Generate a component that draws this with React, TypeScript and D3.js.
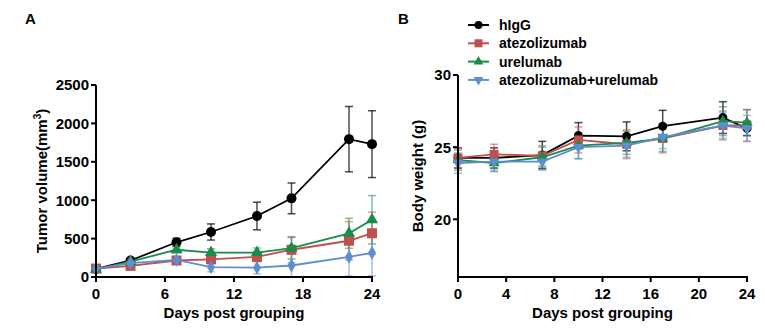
import React from "react";
import * as d3 from "d3";

const days = [0, 3, 7, 10, 14, 17, 22, 24];
const seriesNames = ["hIgG", "atezolizumab", "urelumab", "atezolizumab+urelumab"];
const seriesColors = ["#000000", "#c0504d", "#1a8c4a", "#5b8fd0"];

// Panel A: tumor volume (mean, sem)
const tumorIgG = [105, 215, 452, 586, 794, 1024, 1795, 1730];
const tumorIgGErr = [20, 25, 52, 105, 180, 200, 425, 435];
const tumorAtezo = [110, 145, 215, 230, 262, 355, 472, 570];
const tumorAtezoErr = [20, 25, 30, 40, 60, 170, 250, 275];
const tumorUrel = [100, 200, 355, 318, 318, 375, 569, 745];
const tumorUrelErr = [20, 25, 40, 50, 60, 140, 195, 315];
const tumorCombo = [110, 180, 222, 128, 122, 150, 262, 315];
const tumorComboErr = [20, 25, 30, 60, 80, 150, 250, 300];

// Panel B: body weight (mean, sd)
const weightIgG = [24.25, 24.25, 24.45, 25.8, 25.75, 26.45, 27.05, 26.3];
const weightIgGErr = [0.7, 0.7, 0.95, 0.9, 1.0, 1.1, 1.1, 0.5];
const weightAtezo = [24.25, 24.5, 24.4, 25.5, 25.2, 25.6, 26.5, 26.5];
const weightAtezoErr = [0.7, 0.7, 0.7, 0.9, 1.0, 1.0, 1.0, 1.1];
const weightUrel = [24.1, 23.9, 24.3, 25.1, 25.3, 25.6, 26.8, 26.7];
const weightUrelErr = [0.7, 0.6, 0.7, 0.9, 0.8, 0.9, 1.0, 0.9];
const weightCombo = [23.9, 24.0, 24.0, 25.0, 25.1, 25.7, 26.5, 26.3];
const weightComboErr = [0.7, 0.6, 0.6, 0.8, 0.8, 0.8, 0.9, 0.9];

const tumorTicksY = [0, 500, 1000, 1500, 2000, 2500];
const tumorTicksX = [0, 6, 12, 18, 24];
const weightTicksY = [20, 25, 30];
const weightTicksX = [0, 4, 8, 12, 16, 20, 24];

const FONT = "Liberation Sans, Arial, Helvetica, sans-serif";

type Shape = "circle" | "square" | "triangle" | "diamond" | "triangleDown";

function Marker({ shape, x, y, color, s }: { shape: Shape; x: number; y: number; color: string; s: number }) {
  if (shape === "circle") return <circle cx={x} cy={y} r={s} fill={color} />;
  if (shape === "square") return <rect x={x - s} y={y - s} width={2 * s} height={2 * s} fill={color} />;
  const sym =
    shape === "diamond"
      ? d3.symbol(d3.symbolDiamond, s * s * 2.2)()
      : d3.symbol(d3.symbolTriangle, s * s * 2.6)();
  return (
    <path
      d={sym || ""}
      transform={`translate(${x},${y})${shape === "triangleDown" ? " rotate(180)" : ""}`}
      fill={color}
    />
  );
}

function Panel({
  x0, x1, y0, y1, xDomain, yDomain, xTicks, yTicks, means, errs, shapes, yTitle, yTitleSup, yTitleX, label, labelX, markerSize,
}: any) {
  const xs = d3.scaleLinear().domain(xDomain).range([x0, x1]);
  const ys = d3.scaleLinear().domain(yDomain).range([y0, y1]);
  const line = d3
    .line<[number, number]>()
    .x((d) => xs(d[0]))
    .y((d) => ys(d[1]));
  const midY = (y0 + y1) / 2;
  return (
    <g>
      <text x={labelX} y={24} fontFamily={FONT} fontWeight="bold" fontSize={15}>
        {label}
      </text>
      {means.map((m: number[], si: number) => {
        const color = seriesColors[si];
        return (
          <g key={si}>
            {days.map((d, i) => {
              const cx = xs(d);
              const top = ys(m[i] + errs[si][i]);
              const bot = ys(Math.max(yDomain[0], m[i] - errs[si][i]));
              return (
                <g key={i} stroke={color} strokeOpacity={si === 0 ? 0.7 : 0.55} strokeWidth={1.5}>
                  <line x1={cx} x2={cx} y1={top} y2={bot} />
                  <line x1={cx - 4} x2={cx + 4} y1={top} y2={top} />
                  <line x1={cx - 4} x2={cx + 4} y1={bot} y2={bot} />
                </g>
              );
            })}
          </g>
        );
      })}
      {means.map((m: number[], si: number) => {
        const color = seriesColors[si];
        const pts = days.map((d, i) => [d, m[i]] as [number, number]);
        return (
          <g key={"l" + si}>
            <path d={line(pts) || ""} fill="none" stroke={color} strokeWidth={1.8} />
            {pts.map((p, i) => (
              <Marker key={i} shape={shapes[si]} x={xs(p[0])} y={ys(p[1])} color={color} s={markerSize} />
            ))}
          </g>
        );
      })}
      <line x1={x0} x2={x0} y1={y0 + 1} y2={y1} stroke="#000" strokeWidth={2} />
      <line x1={x0 - 1} x2={x1 + 1} y1={y0} y2={y0} stroke="#000" strokeWidth={2} />
      {yTicks.map((t: number) => (
        <g key={t}>
          <line x1={x0 - 5} x2={x0} y1={ys(t)} y2={ys(t)} stroke="#000" strokeWidth={2} />
          <text
            x={x0 - 7}
            y={ys(t)}
            dy="0.36em"
            textAnchor="end"
            fontFamily={FONT}
            fontWeight="bold"
            fontSize={15}
          >
            {t}
          </text>
        </g>
      ))}
      {xTicks.map((t: number) => (
        <g key={t}>
          <line x1={xs(t)} x2={xs(t)} y1={y0} y2={y0 + 5} stroke="#000" strokeWidth={2} />
          <text x={xs(t)} y={y0 + 22} textAnchor="middle" fontFamily={FONT} fontWeight="bold" fontSize={15}>
            {t}
          </text>
        </g>
      ))}
      <text
        x={(x0 + x1) / 2}
        y={y0 + 41}
        textAnchor="middle"
        fontFamily={FONT}
        fontWeight="bold"
        fontSize={15}
      >
        Days post grouping
      </text>
      <text
        transform={`translate(${yTitleX},${midY}) rotate(-90)`}
        textAnchor="middle"
        fontFamily={FONT}
        fontWeight="bold"
        fontSize={15}
      >
        {yTitle}
        {yTitleSup ? (
          <>
            <tspan dy={-6} fontSize={10}>
              {yTitleSup}
            </tspan>
            <tspan dy={6}>)</tspan>
          </>
        ) : null}
      </text>
    </g>
  );
}

export default function App() {
  const legendShapes: Shape[] = ["circle", "square", "triangle", "triangleDown"];
  return (
    <svg width={765} height={331} style={{ display: "block", position: "absolute", left: 0, top: 0 }}>
      <rect width={765} height={331} fill="#fff" />
      <Panel
        x0={96}
        x1={372}
        y0={277}
        y1={85}
        xDomain={[0, 24]}
        yDomain={[0, 2500]}
        xTicks={tumorTicksX}
        yTicks={tumorTicksY}
        means={[tumorIgG, tumorAtezo, tumorUrel, tumorCombo]}
        errs={[tumorIgGErr, tumorAtezoErr, tumorUrelErr, tumorComboErr]}
        shapes={["circle", "square", "triangle", "diamond"]}
        yTitle="Tumor volume(mm"
        yTitleSup="3"
        yTitleX={47}
        label="A"
        labelX={25}
        markerSize={5}
      />
      <Panel
        x0={458}
        x1={747}
        y0={277}
        y1={75}
        xDomain={[0, 24]}
        yDomain={[16, 30]}
        xTicks={weightTicksX}
        yTicks={weightTicksY}
        means={[weightIgG, weightAtezo, weightUrel, weightCombo]}
        errs={[weightIgGErr, weightAtezoErr, weightUrelErr, weightComboErr]}
        shapes={["circle", "square", "triangle", "triangleDown"]}
        yTitle="Body weight (g)"
        yTitleX={423}
        label="B"
        labelX={398}
        markerSize={4.5}
      />
      {seriesNames.map((n, i) => {
        const y = 25 + i * 18.3;
        return (
          <g key={n}>
            <line x1={468} x2={489} y1={y} y2={y} stroke={seriesColors[i]} strokeWidth={2} />
            <Marker shape={legendShapes[i]} x={478.5} y={y} color={seriesColors[i]} s={4} />
            <text x={499} y={y} dy="0.35em" fontFamily={FONT} fontWeight="bold" fontSize={14}>
              {n}
            </text>
          </g>
        );
      })}
    </svg>
  );
}
